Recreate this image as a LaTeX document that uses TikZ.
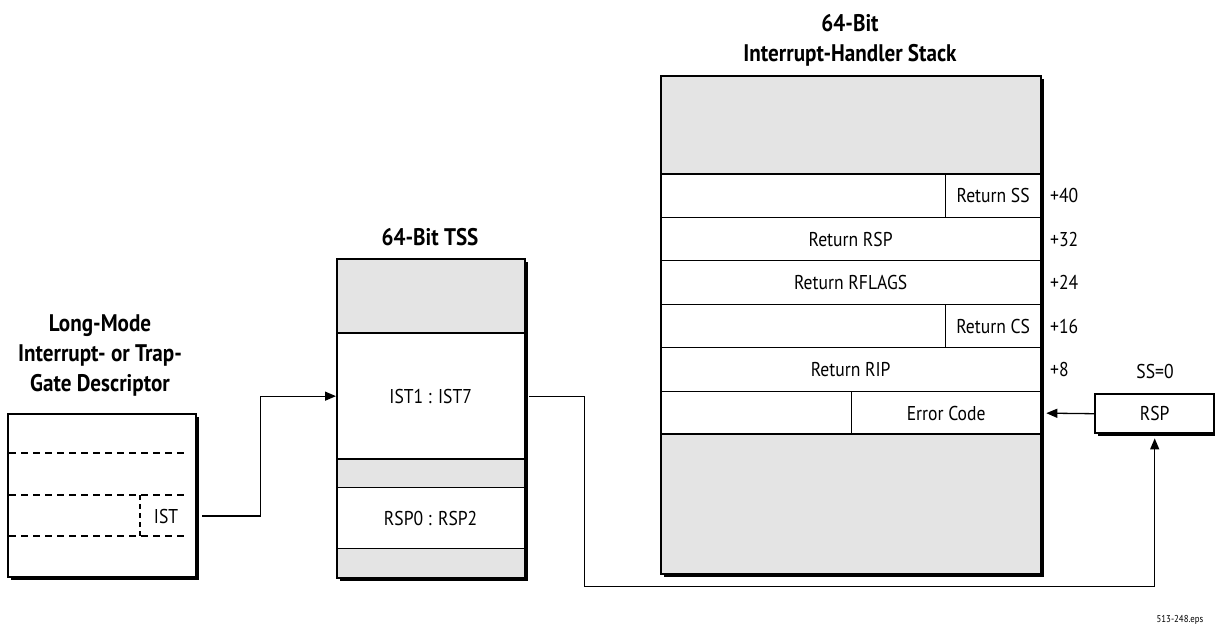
\documentclass[tikz,border=0pt]{standalone}
\usepackage{fontspec}
\setmainfont[FakeStretch=0.88]{PT Sans}
\usetikzlibrary{arrows.meta,calc}
\definecolor{cellgray}{RGB}{228,228,228}
\begin{document}
\begin{tikzpicture}[x=1pt,y=-1pt,
  every node/.style={font=\fontsize{20}{22}\selectfont, inner sep=0pt},
  cell/.style={rectangle, draw=black, line width=1.3pt, anchor=north west},
  wcell/.style={cell, fill=white},
  gcell/.style={cell, fill=cellgray},
  frame/.style={rectangle, draw=black, line width=2.4pt, anchor=north west},
  shadowbox/.style={rectangle, fill=black, draw=none, anchor=north west},
  title/.style={font=\fontsize{24}{30}\selectfont\bfseries, align=center},
  arr/.style={draw=black, line width=1.3pt, -{Triangle[length=11pt,width=9pt]}},
  dashline/.style={dashed, dash pattern=on 7pt off 5pt, line width=1.2pt},
  offlbl/.style={anchor=west}
]
\useasboundingbox (0,0) rectangle (1215,635);

% ---------- Descriptor ----------
\node[title] (desctitle) at (100,355) {Long-Mode\\Interrupt- or Trap-\\Gate Descriptor};
\node[shadowbox, minimum width=188pt, minimum height=163pt] (descsh) at (11,417) {};
\node[frame, fill=white, minimum width=188pt, minimum height=163pt] (desc) at (7,413) {};
\coordinate (d1l) at (9,453); \coordinate (d1r) at (188,453);
\coordinate (d2l) at (9,495); \coordinate (d2r) at (188,495);
\coordinate (d3l) at (9,536); \coordinate (d3r) at (188,536);
\draw[dashline] (d1l) -- (d1r);
\draw[dashline] (d2l) -- (d2r);
\draw[dashline] (d3l) -- (d3r);
\coordinate (dvt) at (140,495); \coordinate (dvb) at (140,536);
\draw[dashline, dash pattern=on 5pt off 4pt] (dvt) -- (dvb);
\node (ist) at (166,516) {IST};

% ---------- TSS ----------
\node[title] (tsstitle) at (430,237) {64-Bit TSS};
\node[shadowbox, minimum width=188pt, minimum height=319pt] (tsssh) at (340,262) {};
\node[gcell, minimum width=188pt, minimum height=75pt] (tss1) at (336,258) {};
\node[wcell, minimum width=188pt, minimum height=125pt] (tssist) at (336,333) {IST1 : IST7};
\node[gcell, minimum width=188pt, minimum height=29pt] (tss3) at (336,458) {};
\node[wcell, minimum width=188pt, minimum height=61pt] (tssrsp) at (336,487) {RSP0 : RSP2};
\node[gcell, minimum width=188pt, minimum height=29pt] (tss5) at (336,548) {};
\node[frame, minimum width=188pt, minimum height=319pt] (tss) at (336,258) {};
\draw[line width=2.2pt] (tssist.north west) -- (tssist.north east);
\draw[line width=2.2pt] (tssist.south west) -- (tssist.south east);

% ---------- Stack ----------
\node[title] (stacktitle) at (850,40) {64-Bit\\Interrupt-Handler Stack};
\node[shadowbox, minimum width=380pt, minimum height=498pt] (stacksh) at (664,79) {};
\node[gcell, minimum width=380pt, minimum height=98pt] (stop) at (660,75) {};
\node[wcell, minimum width=285pt, minimum height=44pt] (r40a) at (660,173) {};
\node[wcell, minimum width=95pt, minimum height=44pt] (rss) at (945,173) {Return SS};
\node[wcell, minimum width=380pt, minimum height=43pt] (rrsp) at (660,217) {Return RSP};
\node[wcell, minimum width=380pt, minimum height=44pt] (rfl) at (660,260) {Return RFLAGS};
\node[wcell, minimum width=285pt, minimum height=43pt] (r16a) at (660,304) {};
\node[wcell, minimum width=95pt, minimum height=43pt] (rcs) at (945,304) {Return CS};
\node[wcell, minimum width=380pt, minimum height=44pt] (rrip) at (660,347) {Return RIP};
\node[wcell, minimum width=191pt, minimum height=43pt] (r0a) at (660,391) {};
\node[wcell, minimum width=189pt, minimum height=43pt] (err) at (851,391) {Error Code};
\node[gcell, minimum width=380pt, minimum height=139pt] (sbot) at (660,434) {};
\node[frame, minimum width=380pt, minimum height=498pt] (stack) at (660,75) {};
\draw[line width=2.2pt] (stop.south west) -- (stop.south east);
\draw[line width=2.2pt] (sbot.north west) -- (sbot.north east);

\node[offlbl] (o40) at (1050,195) {+40};
\node[offlbl] (o32) at (1050,239) {+32};
\node[offlbl] (o24) at (1050,282) {+24};
\node[offlbl] (o16) at (1050,326) {+16};
\node[offlbl] (o8)  at (1050,369) {+8};

% ---------- RSP ----------
\node (ss0) at (1155,371) {SS=0};
\node[shadowbox, minimum width=119pt, minimum height=39pt] (rspsh) at (1098,397) {};
\node[frame, fill=white, minimum width=119pt, minimum height=39pt] (rspbox) at (1094,393) {};
\node (rsptext) at (rspbox.center) {RSP};

% ---------- connectors ----------
\draw[arr] ([xshift=5pt]desc.east |- ist.center) -- ++(58,0) |- (tssist.west);
\draw[arr] ([xshift=4pt]tssist.east) -- ++(55,0) -- ++(0,190) -| ([yshift=-2pt]rspsh.south -| rspbox.south);
\draw[arr] (rspbox.west) -- ([xshift=5pt]err.east);

\node[font=\fontsize{10}{12}\selectfont] (eps) at (1180,620) {513-248.eps};
\end{tikzpicture}
\end{document}
